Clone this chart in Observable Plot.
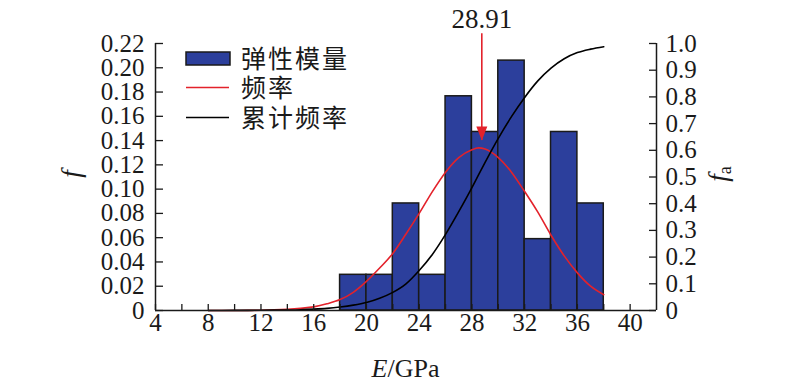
<!DOCTYPE html>
<html><head><meta charset="utf-8">
<script src="https://cdn.jsdelivr.net/npm/d3@7"></script>
<script src="https://cdn.jsdelivr.net/npm/@observablehq/plot@0.6"></script>
<style>
body{margin:0;background:#fff;}
#chart{position:relative;width:800px;height:384px;}
</style></head><body><div id="chart"></div>
<script>
// Histogram bins (E / GPa) and frequency f
const binStart = [18, 20, 22, 24, 26, 28, 30, 32, 34, 36];
const binEnd   = [20, 22, 24, 26, 28, 30, 32, 34, 36, 38];
const freq     = [0.0294, 0.0294, 0.0882, 0.0294, 0.1765, 0.1471, 0.2059, 0.0588, 0.1471, 0.0882];

// Fitted frequency curve and cumulative frequency fa
const curveE       = [8, 9, 10, 11, 12, 13, 14, 15, 16, 17, 18, 19, 20, 21, 22, 23, 24, 25, 26, 27, 28, 28.5, 29, 30, 31, 32, 33, 34, 35, 36, 37, 38];
const normalF      = [0, 0, 0, 0.0001, 0.0002, 0.0005, 0.001, 0.0018, 0.003, 0.0055, 0.009, 0.015, 0.024, 0.035, 0.047, 0.063, 0.080, 0.098, 0.114, 0.126, 0.1325, 0.134, 0.133, 0.126, 0.114, 0.098, 0.081, 0.062, 0.045, 0.031, 0.020, 0.013];
const cumulativeFa = [0, 0.0001, 0.0003, 0.0006, 0.001, 0.0015, 0.002, 0.003, 0.005, 0.008, 0.013, 0.02, 0.03, 0.046, 0.068, 0.10, 0.15, 0.21, 0.285, 0.37, 0.46, 0.508, 0.555, 0.645, 0.726, 0.798, 0.86, 0.908, 0.943, 0.966, 0.979, 0.988];

// Axis ticks
const xTicks      = [4, 8, 12, 16, 20, 24, 28, 32, 36, 40];
const xMinorTicks = [4, 6, 8, 10, 12, 14, 16, 18, 20, 22, 24, 26, 28, 30, 32, 34, 36, 38, 40];
const fTicks      = [0, 0.02, 0.04, 0.06, 0.08, 0.10, 0.12, 0.14, 0.16, 0.18, 0.20, 0.22];
const faTicks     = [0, 0.1, 0.2, 0.3, 0.4, 0.5, 0.6, 0.7, 0.8, 0.9, 1.0];

// Annotation
const peakE     = [28.75];
const peakLabel = ["28.91"];
const arrowFrom = [0.228];
const arrowTo   = [0.140];
const labelF    = [0.2398];

const xDomain = [4, 42];
const fMax = 0.22, faMax = 1.0, k = fMax / faMax;

const bins = binStart.map((s, i) => ({x1: s, x2: binEnd[i], f: freq[i]}));
const curve = curveE.map((e, i) => ({e, f: normalF[i], fa: cumulativeFa[i] * k}));
const peak = peakE.map((e, i) => ({e, label: peakLabel[i], y1: arrowFrom[i], y2: arrowTo[i], ly: labelF[i]}));

const W = 800, H = 384, mL = 155, mR = 144, mT = 43, mB = 74;
const pw = W - mL - mR, ph = H - mT - mB;
const BLUE = "#2c3f9c", RED = "#e3222b", INK = "#1a1a1a";
const SERIF = "'Liberation Serif', 'Times New Roman', Times, serif";
const CJK = "'Noto Sans CJK SC', 'Noto Sans', sans-serif";

const headSymbol = {draw(ctx) { ctx.moveTo(0, 0); ctx.lineTo(-5.5, -14); ctx.lineTo(5.5, -14); ctx.closePath(); }};

const chart = Plot.plot({
  width: W, height: H,
  marginLeft: mL, marginRight: mR, marginTop: mT, marginBottom: mB,
  style: {fontSize: "25px", color: INK, background: "#fff", overflow: "visible"},
  x: {domain: xDomain},
  y: {domain: [0, fMax]},
  marks: [
    Plot.rectY(bins, {x1: "x1", x2: "x2", y: "f", fill: BLUE, stroke: INK, strokeWidth: 1.5}),
    Plot.line(curve, {x: "e", y: "f", stroke: RED, strokeWidth: 1.6, curve: "monotone-x"}),
    Plot.line(curve, {x: "e", y: "fa", stroke: "#000", strokeWidth: 1.6, curve: "monotone-x"}),
    Plot.ruleX(peak, {x: "e", y1: "y1", y2: "y2", stroke: RED, strokeWidth: 1.6}),
    Plot.dot(peak, {x: "e", y: "y2", symbol: headSymbol, fill: RED, stroke: null, r: 5}),
    Plot.text(peak, {x: "e", y: "ly", text: "label", fontSize: 27, fill: INK}),
    // frame lines
    Plot.ruleY([0], {stroke: INK, strokeWidth: 1.5}),
    Plot.ruleX([xDomain[0], xDomain[1]], {stroke: INK, strokeWidth: 1.5}),
    // inward ticks
    Plot.tickY(fTicks, {y: d => d, insetRight: pw - 8, stroke: INK, strokeWidth: 1.3}),
    Plot.tickY(faTicks, {y: d => d * k, insetLeft: pw - 7, stroke: INK, strokeWidth: 1.3}),
    Plot.tickX(xMinorTicks, {x: d => d, insetTop: ph - 6, stroke: INK, strokeWidth: 1.3}),
    // axis labels
    Plot.axisY(fTicks, {anchor: "left", tickSize: 0, tickPadding: 11, label: null, fontSize: 25, tickFormat: d => d === 0 ? "0" : d.toFixed(2)}),
    Plot.axisY(faTicks.map(v => v * k), {anchor: "right", tickSize: 0, tickPadding: 9, label: null, fontSize: 25, tickFormat: d => { const v = d / k; return v === 0 ? "0" : v.toFixed(1); }}),
    Plot.axisX(xTicks, {anchor: "bottom", tickSize: 0, tickPadding: 3, label: null, fontSize: 25})
  ]
});
document.getElementById("chart").appendChild(chart);

const svg = d3.select(chart);
// force serif on all Plot texts
svg.attr("font-family", SERIF).style("font-family", SERIF);
svg.selectAll("g").attr("font-variant", null).style("font-variant", "normal");
svg.selectAll("text").style("font-family", SERIF);

// axis titles
const yl = svg.append("text").attr("transform", "translate(80,174) rotate(-90)")
  .attr("text-anchor", "middle").attr("font-size", 27).attr("fill", INK).style("font-family", SERIF);
yl.append("tspan").attr("font-style", "italic").text("f");
const yr = svg.append("text").attr("transform", "translate(727,174) rotate(-90)")
  .attr("text-anchor", "middle").attr("font-size", 27).attr("fill", INK).style("font-family", SERIF);
yr.append("tspan").attr("font-style", "italic").text("f");
yr.append("tspan").attr("font-size", 18).attr("dy", 4).text("a");
const xl = svg.append("text").attr("x", mL + pw / 2).attr("y", 377)
  .attr("text-anchor", "middle").attr("font-size", 26).attr("fill", INK).style("font-family", SERIF);
xl.append("tspan").attr("font-style", "italic").text("E");
xl.append("tspan").text("/GPa");

// legend
const lg = svg.append("g");
lg.append("rect").attr("x", 186).attr("y", 52).attr("width", 44).attr("height", 13).attr("fill", BLUE).attr("stroke", INK).attr("stroke-width", 1.5);
lg.append("line").attr("x1", 186).attr("x2", 229).attr("y1", 87.5).attr("y2", 87.5).attr("stroke", RED).attr("stroke-width", 1.6);
lg.append("line").attr("x1", 186).attr("x2", 229).attr("y1", 117.5).attr("y2", 117.5).attr("stroke", "#000").attr("stroke-width", 1.6);
[["弹性模量", 58.5], ["频率", 87.5], ["累计频率", 117.5]].forEach(([t, y]) => {
  lg.append("text").attr("x", 241).attr("y", y).attr("dy", "0.36em")
    .attr("text-anchor", "start").attr("font-size", 25).attr("letter-spacing", 2).attr("fill", INK)
    .style("font-family", CJK).text(t);
});
</script>
</body></html>
